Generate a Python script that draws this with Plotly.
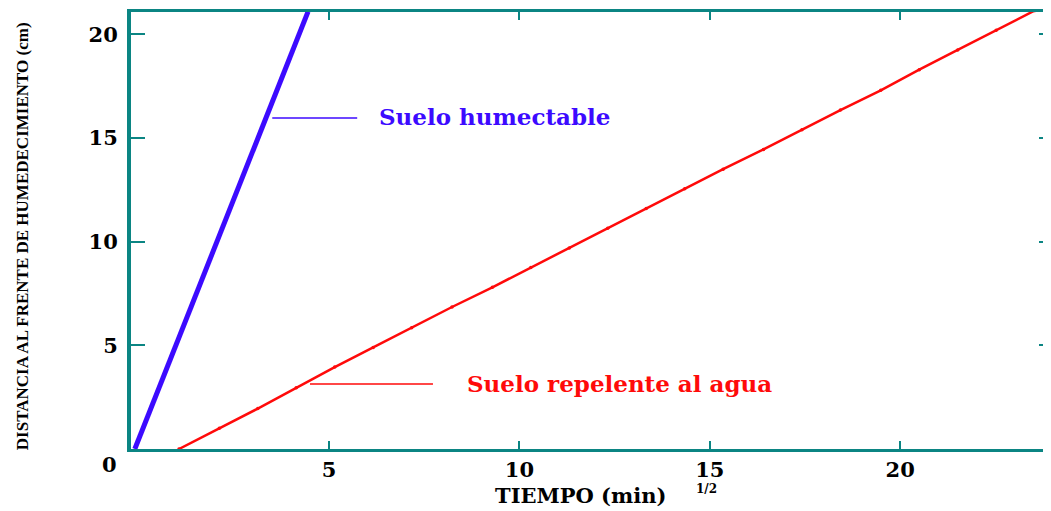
import plotly.graph_objects as go

# ---- data ----
blue_x = [-0.1, 0.98, 2.06, 3.14, 4.21, 4.45]
blue_y = [0.0, 5.0, 10.0, 15.0, 20.0, 21.1]

red_x = [1.06, 2.12, 3.13, 4.14, 5.15, 6.16, 7.17, 8.23, 9.29, 10.30, 11.31, 12.32,
         13.33, 14.34, 15.35, 16.41, 17.42, 18.43, 19.49, 20.50, 21.51, 22.52, 23.53]
red_y = [0.0, 1.0, 1.95, 2.95, 3.95, 4.9, 5.85, 6.85, 7.8, 8.75, 9.7, 10.65, 11.6,
         12.55, 13.5, 14.45, 15.4, 16.35, 17.3, 18.3, 19.25, 20.2, 21.15]

x_ticks = [5, 10, 15, 20]
y_ticks = [5, 10, 15, 20]
x_ticktext = ["5", "10", "15", "20"]
y_ticktext = ["5", "10", "15", "20"]
origin_label = "0"

x_range = [-0.2, 23.96]
y_range = [0, 21.08]

series_names = ["Suelo humectable", "Suelo repelente al agua"]
label_x = [6.26, 8.57]
label_y = [16.02, 3.18]
connector_x0 = [3.51, 4.50]
connector_x1 = [5.74, 7.73]
connector_y = [15.97, 3.14]

x_title = "TIEMPO (min)"
x_title_sup = "1/2"
y_title = "DISTANCIA AL FRENTE DE HUMEDECIMIENTO (cm)"

# ---- styles ----
TEAL = "#0b8583"
BLUE = "#3c0aff"
RED = "#ff0a0a"
colors = [BLUE, RED]
SERIF = "DejaVu Serif"

fig = go.Figure()
fig.add_trace(go.Scatter(x=red_x, y=red_y, mode="lines+markers",
                         line=dict(color=RED, width=2.5),
                         marker=dict(color=RED, size=3.5), hoverinfo="skip"))
fig.add_trace(go.Scatter(x=blue_x, y=blue_y, mode="lines",
                         line=dict(color=BLUE, width=5), hoverinfo="skip"))
# invisible trace to activate the right-side tick axis
fig.add_trace(go.Scatter(x=[red_x[0]], y=[red_y[0]], yaxis="y2", mode="markers",
                         marker=dict(size=1, opacity=0), hoverinfo="skip"))

# page body has an 8px default margin: figure is sized/offset to compensate
fig.update_layout(
    width=1043, height=503,
    margin=dict(l=123, r=0, t=4, b=62),
    plot_bgcolor="white", paper_bgcolor="white",
    showlegend=False,
    xaxis=dict(range=x_range, tickvals=x_ticks, ticktext=x_ticktext,
               ticks="inside", ticklen=8, tickwidth=2, tickcolor=TEAL,
               showline=True, linecolor=TEAL, linewidth=3, mirror="ticks",
               showgrid=False, zeroline=False,
               tickfont=dict(family=SERIF, size=21, color="black", weight="bold")),
    yaxis=dict(range=y_range, tickvals=y_ticks, ticktext=y_ticktext,
               ticks="inside", ticklen=14, tickwidth=2, tickcolor=TEAL,
               showline=True, linecolor=TEAL, linewidth=4,
               showgrid=False, zeroline=False, ticklabelstandoff=5,
               tickfont=dict(family=SERIF, size=21, color="black", weight="bold")),
    yaxis2=dict(range=y_range, tickvals=y_ticks, overlaying="y", side="right",
                ticks="inside", ticklen=12, tickwidth=2, tickcolor=TEAL,
                showticklabels=False, showline=False, showgrid=False, zeroline=False),
)

for i in range(2):
    fig.add_shape(type="line", x0=connector_x0[i], x1=connector_x1[i],
                  y0=connector_y[i], y1=connector_y[i], xref="x", yref="y",
                  line=dict(color=colors[i], width=1.5))
    fig.add_annotation(x=label_x[i], y=label_y[i], xref="x", yref="y",
                       text=series_names[i], showarrow=False, xanchor="left",
                       yanchor="middle",
                       font=dict(family=SERIF, size=23, color=colors[i], weight="bold"))

fig.add_annotation(x=-0.2, y=0, xref="x", yref="y", text=origin_label, showarrow=False,
                   xanchor="center", yanchor="middle", xshift=-22, yshift=-15,
                   font=dict(family=SERIF, size=21, color="black", weight="bold"))

fig.add_annotation(x=0.489, y=-0.107, xref="paper", yref="paper", text=x_title,
                   showarrow=False, xanchor="center", yanchor="middle",
                   font=dict(family=SERIF, size=21, color="black", weight="bold"))
fig.add_annotation(x=0.625, y=-0.092, xref="paper", yref="paper", text=x_title_sup,
                   showarrow=False, xanchor="center", yanchor="middle",
                   font=dict(family=SERIF, size=12, color="black", weight="bold"))

fig.add_annotation(x=-0.1185, y=0.487, xref="paper", yref="paper", text=y_title,
                   showarrow=False, textangle=-90, xanchor="center", yanchor="middle",
                   font=dict(family="Liberation Serif", size=17, color="black", weight="bold"))

fig.write_html("out.html")
